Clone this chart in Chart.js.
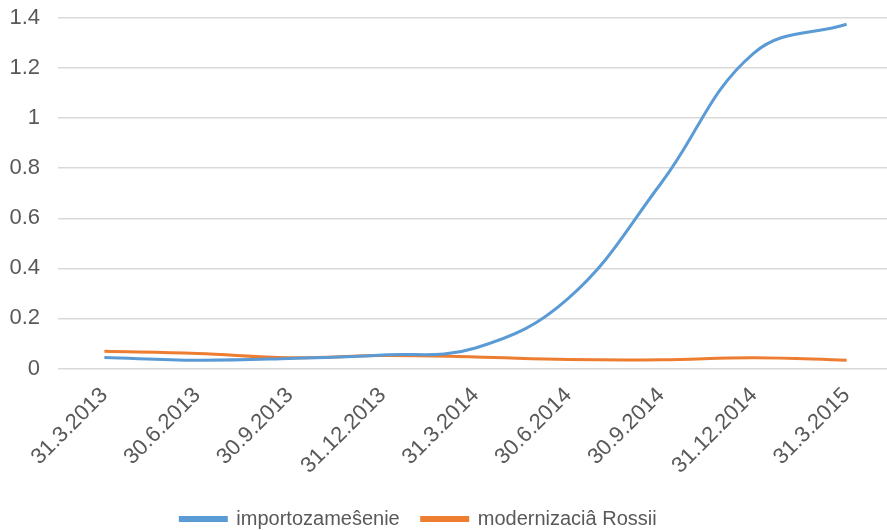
<!DOCTYPE html>
<html lang="en">
<head>
  <meta charset="UTF-8">
  <title>importozamešenie vs modernizaciâ Rossii</title>
  <script src="https://cdn.jsdelivr.net/npm/chart.js"></script>
  <style>
    html, body {
      margin: 0;
      padding: 0;
      background: #fff;
      overflow: hidden;
    }
    .wrap {
      width: 893px;
      height: 530px;
    }
  </style>
</head>
<body>
  <div class="wrap"><canvas id="chart"></canvas></div>

  <script>
    const quarters = ['31.3.2013', '30.6.2013', '30.9.2013', '31.12.2013', '31.3.2014',
                      '30.6.2014', '30.9.2014', '31.12.2014', '31.3.2015'];
    const importValues = [0.044, 0.033, 0.040, 0.054, 0.082, 0.28, 0.74, 1.26, 1.375];
    const modernValues = [0.069, 0.060, 0.043, 0.052, 0.046, 0.036, 0.035, 0.043, 0.033];
    const seriesNames = ['importozameŝenie', 'modernizaciâ Rossii'];

    const textColor = '#595959';
    const fontFamily = 'Liberation Sans, Arial, sans-serif';

    // the legend in the original sits a bit left of centre
    const legendNudge = {
      id: 'legendNudge',
      afterLayout(chart) {
        chart.legend.left -= 28;
        chart.legend.right -= 28;
      }
    };

    new Chart(document.getElementById('chart'), {
      type: 'line',
      data: {
        labels: quarters,
        datasets: [
          {
            label: seriesNames[0],
            data: importValues,
            borderColor: '#5B9BD5',
            backgroundColor: '#5B9BD5',
            borderWidth: 3,
            pointRadius: 0,
            tension: 0.4
          },
          {
            label: seriesNames[1],
            data: modernValues,
            borderColor: '#ED7D31',
            backgroundColor: '#ED7D31',
            borderWidth: 3,
            pointRadius: 0,
            tension: 0.4
          }
        ]
      },
      plugins: [legendNudge],
      options: {
        responsive: true,
        maintainAspectRatio: false,
        animation: false,
        layout: { padding: { top: 0, right: 0, left: 0, bottom: -9 } },
        plugins: {
          legend: {
            position: 'bottom',
            labels: {
              color: textColor,
              font: { family: fontFamily, size: 20 },
              boxWidth: 46,
              boxHeight: 3,
              padding: 22
            }
          },
          tooltip: { enabled: false }
        },
        scales: {
          x: {
            offset: true,
            grid: { display: false },
            border: { display: false },
            // leave a wider gap between the date labels and the legend
            afterFit: s => { s.height += 2; },
            ticks: {
              color: textColor,
              padding: 6,
              font: { family: fontFamily, size: 22 },
              minRotation: 45,
              maxRotation: 45
            }
          },
          y: {
            min: 0,
            max: 1.4,
            afterFit: s => { s.width = 58; },
            grid: { color: '#d9d9d9', lineWidth: 1.5, tickLength: 11, tickColor: 'rgba(0,0,0,0)' },
            border: { display: false },
            ticks: {
              stepSize: 0.2,
              color: textColor,
              padding: 7,
              font: { family: fontFamily, size: 22, lineHeight: 1 },
              callback: v => Math.round(v * 10) / 10
            }
          }
        }
      }
    });
  </script>
</body>
</html>
